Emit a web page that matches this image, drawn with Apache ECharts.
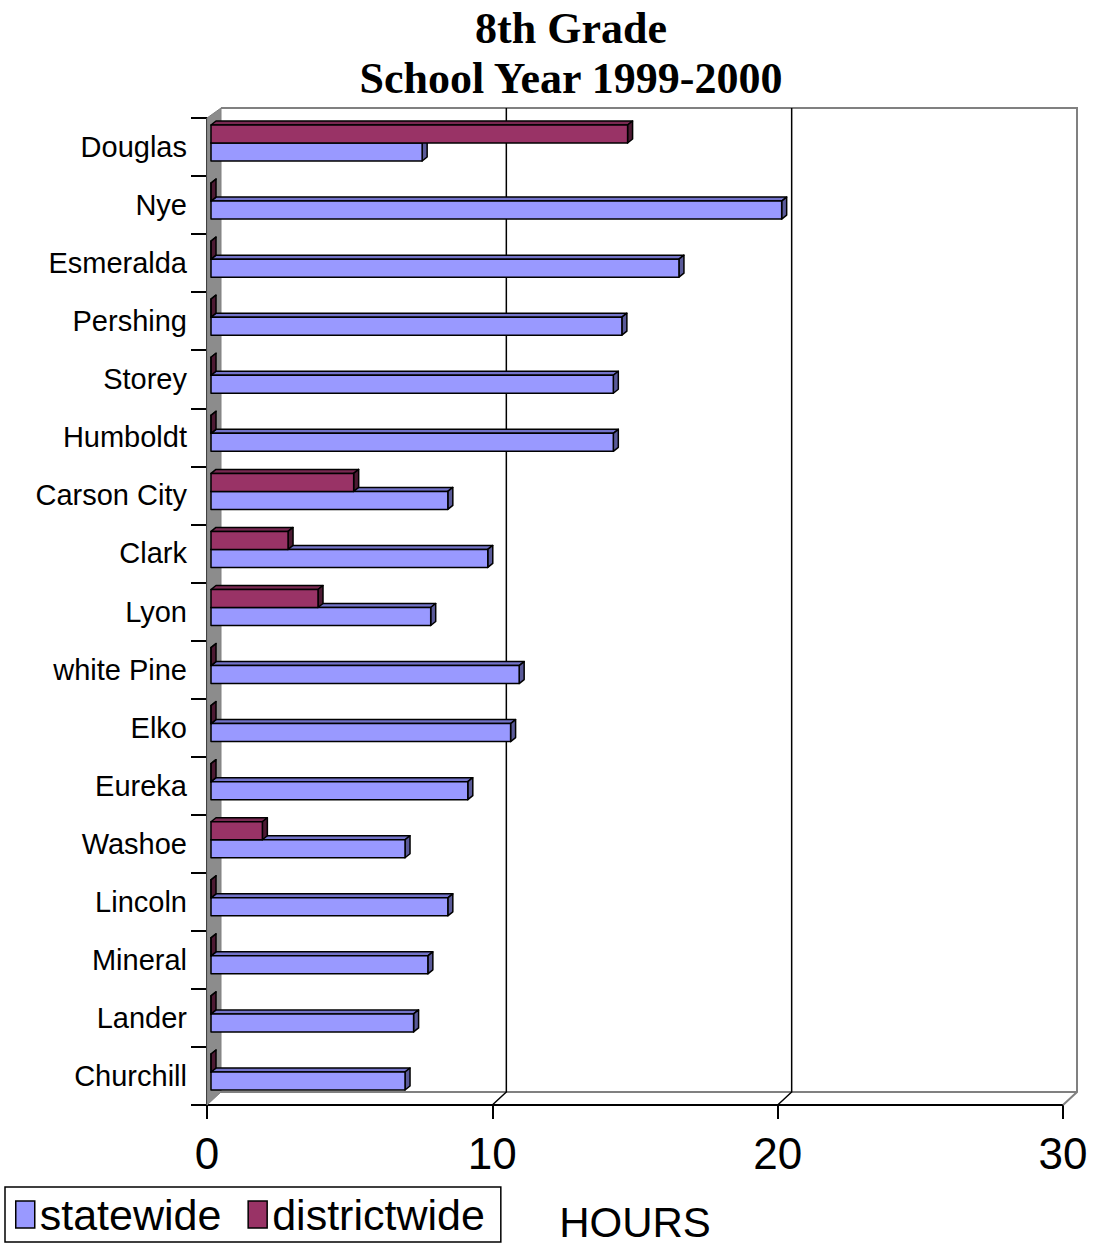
<!DOCTYPE html>
<html>
<head>
<meta charset="utf-8">
<script src="https://cdn.jsdelivr.net/npm/echarts@6/dist/echarts.min.js"></script>
<style>
html,body{margin:0;padding:0;background:#fff;}
#chart{width:1093px;height:1245px;}
</style>
</head>
<body>
<div id="chart"></div>
<script>
const categories = ['Douglas','Nye','Esmeralda','Pershing','Storey','Humboldt','Carson City','Clark','Lyon','white Pine','Elko','Eureka','Washoe','Lincoln','Mineral','Lander','Churchill'];
const statewide =    [7.4, 20.0, 16.4, 14.4, 14.1, 14.1, 8.3, 9.7, 7.7, 10.8, 10.5, 9.0, 6.8, 8.3, 7.6, 7.1, 6.8];
const districtwide = [14.6, 0, 0, 0, 0, 0, 5.0, 2.7, 3.75, 0, 0, 0, 1.8, 0, 0, 0, 0];
const xTicks = [0, 10, 20, 30];

const FONT = '"Liberation Sans", Arial, sans-serif';
const WALL_DX = 14, WALL_DY = -13;
const BAR_DX = 4, BAR_DY = -4, BAR_H = 18, DEPTH_X = 5, DEPTH_Y = -4;

function barRenderer(isDistrict, front, top, side) {
  return function (params, api) {
    const v = api.value(0), c = api.value(1);
    const p0 = api.coord([0, c]);
    const p1 = api.coord([v, c]);
    const x0 = p0[0] + BAR_DX, x1 = p1[0] + BAR_DX;
    const yc = p0[1] + BAR_DY;
    const y0 = isDistrict ? yc - BAR_H : yc;
    const y1 = isDistrict ? yc : yc + BAR_H;
    const st = {stroke: '#000', lineWidth: 1.5, lineJoin: 'round'};
    return {
      type: 'group',
      children: [
        {type: 'polygon', shape: {points: [[x0, y0], [x0 + DEPTH_X, y0 + DEPTH_Y], [x1 + DEPTH_X, y0 + DEPTH_Y], [x1, y0]]}, style: Object.assign({fill: top}, st)},
        {type: 'polygon', shape: {points: [[x1, y0], [x1 + DEPTH_X, y0 + DEPTH_Y], [x1 + DEPTH_X, y1 + DEPTH_Y], [x1, y1]]}, style: Object.assign({fill: side}, st)},
        {type: 'rect', shape: {x: x0, y: y0, width: x1 - x0, height: y1 - y0}, style: Object.assign({fill: front}, st)}
      ]
    };
  };
}

function frameRenderer(params, api) {
  const cs = params.coordSys;
  const left = cs.x, right = cs.x + cs.width, topY = cs.y, bottom = cs.y + cs.height;
  const bTop = topY - 10;
  const bBottom = bottom + WALL_DY;
  const children = [];
  children.push({type: 'polygon', shape: {points: [[left, topY], [left + WALL_DX, bTop], [left + WALL_DX, bBottom], [left, bottom]]}, style: {fill: '#8c8c8c', stroke: '#808080', lineWidth: 1}});
  children.push({type: 'polyline', shape: {points: [[left + WALL_DX, bTop], [right + WALL_DX, bTop], [right + WALL_DX, bBottom], [right, bottom]]}, style: {stroke: '#808080', lineWidth: 2, fill: null}});
  children.push({type: 'line', shape: {x1: left + WALL_DX, y1: bBottom, x2: right + WALL_DX, y2: bBottom}, style: {stroke: '#808080', lineWidth: 2}});
  xTicks.forEach(function (t) {
    if (t === 0 || t === xTicks[xTicks.length - 1]) return;
    const p = api.coord([t, 0]);
    children.push({type: 'polyline', shape: {points: [[p[0] + WALL_DX, bTop], [p[0] + WALL_DX, bBottom], [p[0], bottom]]}, style: {stroke: '#000', lineWidth: 1.5, fill: null}});
  });
  return {type: 'group', children: children};
}

const chart = echarts.init(document.getElementById('chart'), null, {renderer: 'svg'});
chart.setOption({
  backgroundColor: '#ffffff',
  animation: false,
  title: {
    text: '8th Grade\nSchool Year 1999-2000',
    left: 566, top: -2, textAlign: 'center',
    textStyle: {fontFamily: '"Liberation Serif", "Times New Roman", serif', fontWeight: 'bold', fontSize: 44, lineHeight: 50, color: '#000'}
  },
  legend: {
    left: 5, top: 1187,
    orient: 'horizontal',
    data: [
      {name: 'statewide', icon: 'rect', itemStyle: {color: '#9999FF', borderColor: '#000', borderWidth: 1.5}},
      {name: 'districtwide', icon: 'rect', itemStyle: {color: '#993366', borderColor: '#000', borderWidth: 1.5}}
    ],
    itemWidth: 19, itemHeight: 27, itemGap: 26,
    borderColor: '#000', borderWidth: 1.5, padding: [6, 16, 6, 10],
    textStyle: {fontFamily: FONT, fontSize: 43, lineHeight: 40, color: '#000', padding: [0, 0, 0, 0]}
  },
  grid: {left: 207, right: 30, top: 118, bottom: 140, containLabel: false, outerBoundsMode: 'none'},
  xAxis: {
    type: 'value', min: 0, max: 30, interval: 10,
    name: 'HOURS', nameLocation: 'middle', nameGap: 97,
    nameTextStyle: {fontFamily: FONT, fontSize: 42, lineHeight: 40, color: '#000'},
    axisLine: {show: true, lineStyle: {color: '#000', width: 2}},
    axisTick: {show: true, length: 14, inside: false, lineStyle: {color: '#000', width: 2}},
    axisLabel: {fontFamily: FONT, fontSize: 44, color: '#000', margin: 26},
    splitLine: {show: false}
  },
  yAxis: {
    type: 'category', data: categories, inverse: true,
    axisLine: {show: true, lineStyle: {color: '#000', width: 2}},
    axisTick: {show: true, length: 16, lineStyle: {color: '#000', width: 2}},
    axisLabel: {fontFamily: FONT, fontSize: 29, color: '#000', margin: 20},
    splitLine: {show: false}
  },
  series: [
    {
      type: 'custom', name: 'frame', silent: true, z: 1,
      renderItem: frameRenderer,
      data: [[0, 0]], encode: {x: 0, y: 1}
    },
    {
      type: 'custom', name: 'statewide', z: 2,
      itemStyle: {color: '#9999FF'},
      renderItem: barRenderer(false, '#9999FF', '#7373C9', '#5A5A99'),
      data: statewide.map(function (v, i) { return [v, i]; }),
      encode: {x: 0, y: 1}
    },
    {
      type: 'custom', name: 'districtwide', z: 3,
      itemStyle: {color: '#993366'},
      renderItem: barRenderer(true, '#993366', '#7A2952', '#4D1A33'),
      data: districtwide.map(function (v, i) { return [v, i]; }),
      encode: {x: 0, y: 1}
    }
  ]
});
</script>
</body>
</html>
